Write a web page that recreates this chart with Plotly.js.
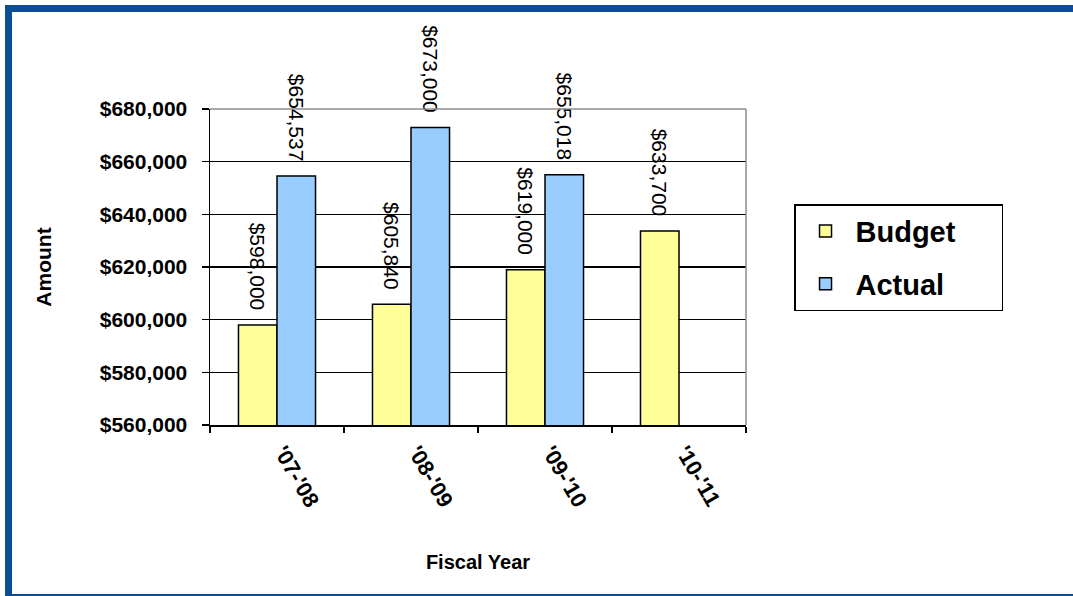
<!DOCTYPE html>
<html>
<head>
<meta charset="utf-8">
<script src="https://cdn.plot.ly/plotly-3.0.1.min.js"></script>
<style>
  html, body { margin: 0; padding: 0; background: #ffffff; }
  #wrap { position: relative; width: 1073px; height: 596px; overflow: hidden; }
  #chart { position: absolute; left: 0; top: 0; width: 1073px; height: 596px; }
  .frame { position: absolute; background: #0b4d96; pointer-events: none; }
</style>
</head>
<body>
<div id="wrap">
  <div id="chart"></div>
  <div class="frame" style="left:5px; top:5px; width:1068px; height:7px;"></div>
  <div class="frame" style="left:5px; top:5px; width:7px; height:591px;"></div>
  <div class="frame" style="left:5px; top:594px; width:1068px; height:2px;"></div>
</div>
<script>
const categories = ["'07-'08", "'08-'09", "'09-'10", "'10-'11"];
const budgetValues = [598000, 605840, 619000, 633700];
const actualValues = [654537, 673000, 655018, null];
const yTickValues = [560000, 580000, 600000, 620000, 640000, 660000, 680000];
const seriesNames = ['Budget', 'Actual'];

const FONT = "Liberation Sans, Arial, sans-serif";
const LABEL_TEMPLATE = '%{y:$,.0f}\u00a0\u00a0';
const PAD = '\u00a0\u00a0\u00a0\u00a0\u00a0';

const budget = {
  type: 'bar', name: seriesNames[0] + PAD, x: categories, y: budgetValues,
  marker: { color: '#ffff99', line: { color: '#000000', width: 1.5 } },
  texttemplate: LABEL_TEMPLATE, textposition: 'outside', textangle: 90,
  constraintext: 'none',
  textfont: { family: FONT, size: 21, color: '#000000' },
  cliponaxis: false, legendgroup: 'b', hoverinfo: 'x+y'
};
const actual = {
  type: 'bar', name: seriesNames[1] + PAD, x: categories, y: actualValues,
  marker: { color: '#99ccff', line: { color: '#000000', width: 1.5 } },
  texttemplate: LABEL_TEMPLATE, textposition: 'outside', textangle: 90,
  constraintext: 'none',
  textfont: { family: FONT, size: 21, color: '#000000' },
  cliponaxis: false, legendgroup: 'a', hoverinfo: 'x+y'
};

const layout = {
  width: 1073, height: 596,
  margin: { l: 210, r: 327, t: 109, b: 171, pad: 0 },
  paper_bgcolor: '#ffffff', plot_bgcolor: '#ffffff',
  font: { family: FONT, color: '#000000' },
  barmode: 'group', bargap: 0.425, bargroupgap: 0,
  showlegend: true,
  legend: {
    x: 1.0896, y: 0.699, xanchor: 'left', yanchor: 'top',
    bordercolor: '#000000', borderwidth: 1.5, bgcolor: '#ffffff',
    font: { family: FONT, size: 29, color: '#000000', weight: 'bold' },
    tracegroupgap: 12, traceorder: 'grouped', itemwidth: 50
  },
  xaxis: {
    type: 'category', showgrid: false, showline: true, linecolor: '#000000', linewidth: 1.5,
    ticks: 'outside', tickson: 'boundaries', ticklen: 6, tickcolor: '#000000', tickwidth: 1.5,
    tickangle: 60, ticklabelshift: 6, ticklabelstandoff: 4,
    tickfont: { family: FONT, size: 22, color: '#000000', weight: 'bold' },
    title: { text: 'Fiscal Year', font: { family: FONT, size: 20, color: '#000000', weight: 'bold' }, standoff: 44 },
    automargin: false, fixedrange: true
  },
  yaxis: {
    range: [560000, 680000], tickvals: yTickValues, tickformat: '$,.0f',
    showgrid: true, gridcolor: '#000000', gridwidth: 1.5,
    showline: true, linecolor: '#000000', linewidth: 1.5,
    ticks: 'outside', ticklen: 7, tickcolor: '#000000', tickwidth: 1.5,
    ticklabelstandoff: 10,
    tickfont: { family: FONT, size: 21, color: '#000000', weight: 'bold' },
    title: { text: 'Amount', font: { family: FONT, size: 21, color: '#000000', weight: 'bold' }, standoff: 42 },
    zeroline: false, automargin: false, fixedrange: true
  },
  shapes: [
    { type: 'line', xref: 'paper', yref: 'paper', x0: 0, x1: 1, y0: 1, y1: 1,
      line: { color: '#8c8c8c', width: 1.5 }, layer: 'above' },
    { type: 'line', xref: 'paper', yref: 'paper', x0: 1, x1: 1, y0: 0, y1: 1,
      line: { color: '#8c8c8c', width: 1.5 }, layer: 'above' }
  ]
};

Plotly.newPlot('chart', [budget, actual], layout, { displayModeBar: false, staticPlot: true });
</script>
</body>
</html>
